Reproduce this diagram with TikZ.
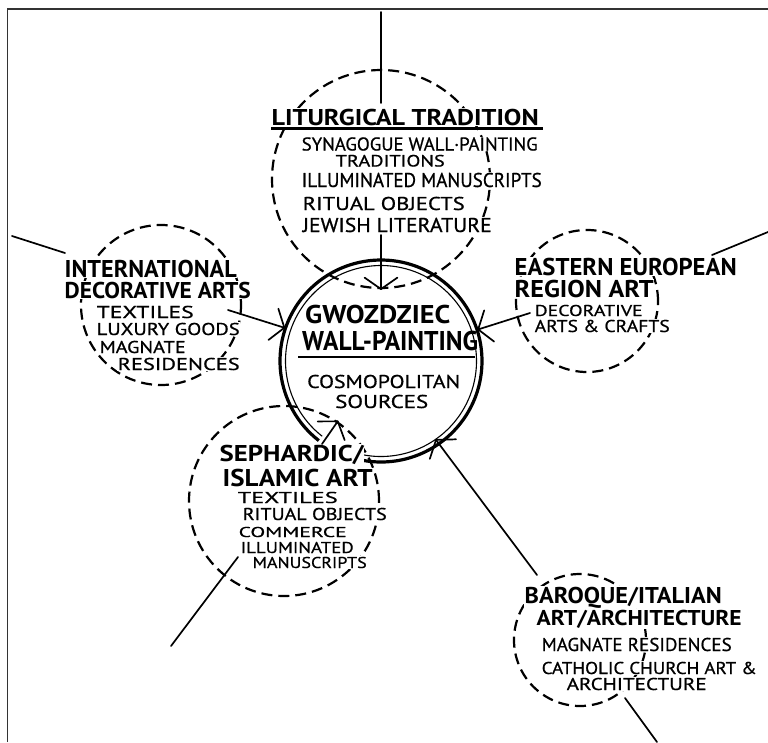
\documentclass[tikz,border=0pt]{standalone}
\usepackage{fontspec}
\setmainfont{PT Sans}
\newfontfamily\itemfont[FakeBold=0.7]{PT Sans}
\usepackage{graphicx}
\usetikzlibrary{calc}

% Set a line of capitals to a given width and cap height (in pt)
\newsavebox\fitbox
\newdimen\fitwd
\newdimen\fitcap
\newcommand\fitline[3]{%
  \sbox\fitbox{#3}%
  \fitwd=\wd\fitbox\relax
  \fitcap=\fontcharht\font`H\relax
  \pgfmathsetmacro\fitsx{#1/\fitwd}%
  \pgfmathsetmacro\fitsy{#2/\fitcap}%
  \scalebox{\fitsx}[\fitsy]{\usebox\fitbox}}

% open V head at #1, pointing away from #2
\newcommand\vhead[2]{%
  \draw[spoke] ($(#1)!20pt!55:(#2)$) -- (#1) -- ($(#1)!20pt!-55:(#2)$);}

\tikzset{
  lbl/.style={inner sep=0pt, anchor=base west, font=\itemfont\fontsize{20}{24}\selectfont},
  ttl/.style={lbl, font=\fontsize{20}{24}\selectfont\bfseries},
  mask/.style={fill=white, inner sep=0.5pt},
  ring/.style={circle, draw, line width=2.2pt, dash pattern=on 11pt off 6pt, inner sep=0pt},
  spoke/.style={line width=1.7pt, line cap=round, line join=round},
  rule/.style={line width=2.4pt},
}

\begin{document}
\begin{tikzpicture}[x=1pt,y=-1pt]
\useasboundingbox (0,0) rectangle (768,742);

% frame
\draw[line width=1.8pt, black!80] (7.5,742) -- (7.5,9.3) -- (768,9.3);

% the satellite circles
\node[ring, minimum size=218pt] (lit) at (381,179) {};
\node[ring, minimum size=160pt] (intl) at (161,305) {};
\node[ring, minimum size=142pt] (east) at (587,301) {};
\node[ring, minimum size=190pt] (seph) at (284,501) {};
\node[ring, minimum size=132pt] (baro) at (580,640) {};

% the central double circle, open where the Sephardic circle crosses it
\node[circle, minimum size=204pt, inner sep=0pt] (hub) at (381,361) {};
\draw[line width=3.2pt] (hub.center) ++(128:101) arc[start angle=128, end angle=462, radius=101];
\draw[line width=1.1pt] (hub.center) ++(128:95.5) arc[start angle=128, end angle=462, radius=95.5];

% central text
\node[ttl] (hubA) at (305,323) {\fitline{145}{18}{GWOZDZIEC}};
\node[ttl] (hubB) at (302,350) {\fitline{176}{19}{WALL-PAINTING}};
\draw[rule] (298,357) -- (475,357);
\node[lbl] (hubC) at (307,388) {\fitline{153}{13}{COSMOPOLITAN}};
\node[lbl] (hubD) at (335,408) {\fitline{93}{13}{SOURCES}};

% liturgical tradition
\node[ttl,mask] (litT) at (271,125) {\fitline{267}{16}{LITURGICAL TRADITION}};
\draw[rule] (271,128.5) -- (543,128.5);
\node[lbl,mask] (litA) at (301,150.5) {\fitline{236}{13}{SYNAGOGUE WALL·PAINTING}};
\node[lbl,mask] (litB) at (335,166.5) {\fitline{109}{11.5}{TRADITIONS}};
\node[lbl,mask] (litC) at (301,187) {\fitline{240}{14}{ILLUMINATED MANUSCRIPTS}};
\node[lbl,mask] (litD) at (302,210) {\fitline{162}{13}{RITUAL OBJECTS}};
\node[lbl,mask] (litE) at (302,232) {\fitline{189}{14}{JEWISH LITERATURE}};

% international decorative arts
\node[ttl,mask] (intlT) at (64,277) {\fitline{172}{17}{INTERNATIONAL}};
\node[ttl,mask] (intlU) at (64,298) {\fitline{186}{16}{DECORATIVE ARTS}};
\node[lbl,mask] (intlA) at (96,318) {\fitline{97}{12}{TEXTILES}};
\node[lbl,mask] (intlB) at (96,335) {\fitline{143}{12}{LUXURY GOODS}};
\node[lbl,mask] (intlC) at (99,353) {\fitline{86}{12}{MAGNATE}};
\node[lbl,mask] (intlD) at (117,370) {\fitline{122}{12}{RESIDENCES}};

% eastern european region art
\node[ttl,mask] (eastT) at (514,275) {\fitline{222}{17}{EASTERN EUROPEAN}};
\node[ttl,mask] (eastU) at (514,297) {\fitline{139}{17}{REGION ART}};
\node[lbl,mask] (eastA) at (534,316) {\fitline{108}{11}{DECORATIVE}};
\node[lbl,mask] (eastB) at (534,332) {\fitline{135}{12}{ARTS \& CRAFTS}};

% sephardic / islamic art
\node[ttl,mask] (sephT) at (219,461) {\fitline{144}{16}{SEPHARDIC/}};
\node[ttl,mask] (sephU) at (222,486) {\fitline{150}{17}{ISLAMIC ART}};
\node[lbl,mask] (sephA) at (237,503) {\fitline{100}{11}{TEXTILES}};
\node[lbl,mask] (sephB) at (242,520) {\fitline{144}{12}{RITUAL OBJECTS}};
\node[lbl,mask] (sephC) at (238,537) {\fitline{108}{10}{COMMERCE}};
\node[lbl,mask] (sephD) at (240,553) {\fitline{113}{11}{ILLUMINATED}};
\node[lbl,mask] (sephE) at (252,568) {\fitline{114}{11}{MANUSCRIPTS}};

% baroque / italian art and architecture
\node[ttl,mask] (baroT) at (524,603) {\fitline{197}{16}{BAROQUE/ITALIAN}};
\node[ttl,mask] (baroU) at (536,625) {\fitline{205}{15}{ART/ARCHITECTURE}};
\node[lbl,mask] (baroA) at (541,651) {\fitline{190}{13}{MAGNATE RESIDENCES}};
\node[lbl,mask] (baroB) at (541,674) {\fitline{215}{12}{CATHOLIC CHURCH ART \&}};
\node[lbl,mask] (baroC) at (566,690) {\fitline{140}{12}{ARCHITECTURE}};

% spokes running out of the picture
\coordinate (litFree) at (381,12);
\coordinate (litTop) at (381,103);
\coordinate (intlFree) at (12,236);
\coordinate (intlTop) at (65,253);
\coordinate (eastFree) at (768,232);
\coordinate (eastTop) at (712,255);
\coordinate (sephFree) at (171,646);
\coordinate (sephLow) at (238,557);
\coordinate (baroLow) at (625,698);
\coordinate (baroFree) at (657,742);
\draw[spoke] (litFree) -- (litTop);
\draw[spoke] (intlFree) -- (intlTop);
\draw[spoke] (eastFree) -- (eastTop);
\draw[spoke] (sephFree) -- (sephLow);
\draw[spoke] (baroLow) -- (baroFree);

% arrows feeding the central circle
\coordinate (litOut) at (381,235);
\coordinate (intlOut) at (228,310);
\coordinate (eastOut) at (530,313);
\coordinate (sephOut) at (322,444);
\coordinate (baroOut) at (537,575);
\coordinate (baroTip) at ($(hub.305)!-6pt!(baroOut)$);
\draw[spoke] (litOut) -- (lit.south);   \vhead{lit.south}{litOut}
\draw[spoke] (intlOut) -- (hub.161);    \vhead{hub.161}{intlOut}
\draw[spoke] (eastOut) -- (hub.18);     \vhead{hub.18}{eastOut}
\draw[spoke] (sephOut) -- (seph.56);    \vhead{seph.56}{sephOut}
\draw[spoke] (baroOut) -- (baroTip);    \vhead{baroTip}{baroOut}
\end{tikzpicture}
\end{document}
